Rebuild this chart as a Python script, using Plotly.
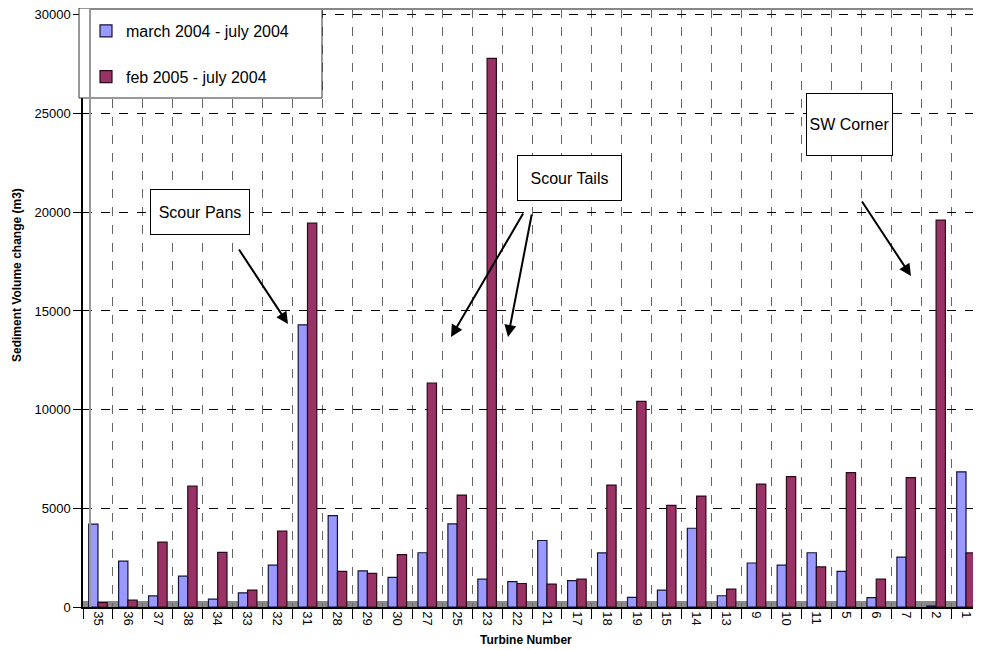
import plotly.graph_objects as go

turbines = ['35', '36', '37', '38', '34', '33', '32', '31', '28', '29', '30', '27', '25', '23', '22',
            '21', '17', '18', '19', '15', '14', '13', '9', '10', '11', '5', '6', '7', '2', '1']

march_july_2004 = [4200, 2320, 560, 1560, 400, 720, 2120, 14300, 4630, 1830, 1500, 2750, 4210, 1410, 1290,
                   3370, 1340, 2740, 490, 860, 3990, 570, 2230, 2120, 2750, 1810, 470, 2530, 50, 6850]
feb2005_july2004 = [220, 350, 3290, 6130, 2770, 860, 3840, 19450, 1810, 1700, 2650, 11350, 5670, 27800, 1190,
                    1160, 1410, 6180, 10420, 5150, 5620, 905, 6230, 6610, 2030, 6810, 1410, 6560, 19600, 2740]

FONT = 'Arial, Liberation Sans, sans-serif'

# the page body has an 8px margin, so the figure is drawn 8px in from the window corner
OFF = 8
W, H = 981 - OFF, 650 - OFF

# plot area in window pixels (for placing the boxes/arrows)
L, R, T, B = 83, 981, 9, 607


def px(x):
    return (x - L) / (R - L)


def py(y):
    return (B - y) / (B - T)


fig = go.Figure()
fig.add_trace(go.Bar(x=turbines, y=march_july_2004, name='march 2004 - july 2004',
                     marker=dict(color='#9999FF', line=dict(color='#14143a', width=1.2)),
                     legendgroup='a'))
fig.add_trace(go.Bar(x=turbines, y=feb2005_july2004, name='feb 2005 - july 2004',
                     marker=dict(color='#993366', line=dict(color='#2a0a18', width=1.2)),
                     legendgroup='b'))

labels = [('Scour Pans', 200, 212, 98, 44),
          ('Scour Tails', 569.5, 178, 103, 44),
          ('SW Corner', 849.5, 124.5, 85, 61)]
anns = []
for text, cx, cy, w, h in labels:
    anns.append(dict(text=text, x=px(cx), y=py(cy), xref='paper', yref='paper',
                     xanchor='center', yanchor='middle',
                     showarrow=False, width=w, height=h, borderpad=0,
                     bordercolor='black', borderwidth=1, bgcolor='white',
                     font=dict(family=FONT, size=16, color='black')))

# arrows: (tail, head) in window pixels
arrows = [((238, 248), (288, 324)),
          ((524, 212), (451, 337)),
          ((532, 213), (508, 337)),
          ((861, 200), (911, 276))]
for (tx, ty), (hx, hy) in arrows:
    anns.append(dict(text='', x=px(hx), y=py(hy), xref='paper', yref='paper',
                     ax=tx - hx, ay=ty - hy, showarrow=True, arrowhead=2,
                     arrowsize=1.2, arrowwidth=2, arrowcolor='black'))

anns.append(dict(text='<b>Turbine Number</b>', x=px(526), y=py(640), xref='paper', yref='paper',
                 xanchor='center', yanchor='middle',
                 showarrow=False, font=dict(family=FONT, size=12, color='black')))
anns.append(dict(text='<b>Sediment Volume change (m3)</b>', x=px(17), y=py(275), xref='paper',
                 yref='paper', xanchor='center', yanchor='middle', showarrow=False, textangle=-90,
                 font=dict(family=FONT, size=12, color='black')))

fig.update_layout(
    width=W, height=H,
    margin=dict(l=L - OFF, r=W - (R - OFF), t=T - OFF, b=H - (B - OFF), autoexpand=False),
    paper_bgcolor='white', plot_bgcolor='white',
    barmode='group', bargap=0.38, bargroupgap=0.0,
    font=dict(family=FONT, size=12, color='black'),
    showlegend=True,
    legend=dict(x=px(86), y=py(14), xanchor='left', yanchor='top',
                bgcolor='rgba(0,0,0,0)', borderwidth=0,
                traceorder='grouped', tracegroupgap=22,
                font=dict(family=FONT, size=16, color='black')),
    annotations=anns,
    shapes=[
        # legend frame
        dict(type='rect', xref='paper', yref='paper', x0=px(79), x1=px(322), y0=py(98), y1=py(8),
             line=dict(color='#333', width=1), fillcolor='white', layer='above'),
        # floor
        dict(type='rect', xref='paper', yref='y', x0=0, x1=1, y0=0, y1=300,
             line=dict(width=0), fillcolor='#8a8a8a', layer='below'),
        # back wall edges
        dict(type='line', xref='paper', yref='paper', x0=px(90), x1=1, y0=1, y1=1,
             line=dict(color='#888', width=2)),
        dict(type='line', xref='paper', yref='paper', x0=px(90), x1=px(90), y0=0, y1=1,
             line=dict(color='#999', width=2)),
    ],
)

fig.update_xaxes(type='category', tickangle=90, tickson='boundaries', ticks='outside', ticklen=10,
                 tickcolor='black', showline=True, linecolor='black', linewidth=1.5,
                 showgrid=True, gridcolor='#666', griddash='dash', gridwidth=1, automargin=False,
                 tickfont=dict(family=FONT, size=13, color='black'))
fig.update_yaxes(range=[0, 30300], tickvals=[0, 5000, 10000, 15000, 20000, 25000, 30000],
                 tickformat='d', ticks='outside', ticklen=8, tickcolor='black', showline=True,
                 linecolor='black', linewidth=1.5, showgrid=True, gridcolor='black', griddash='dash',
                 gridwidth=1, zeroline=False, automargin=False, ticklabeloverflow='allow',
                 tickfont=dict(family=FONT, size=13, color='black'))

fig.write_html("out.html")
